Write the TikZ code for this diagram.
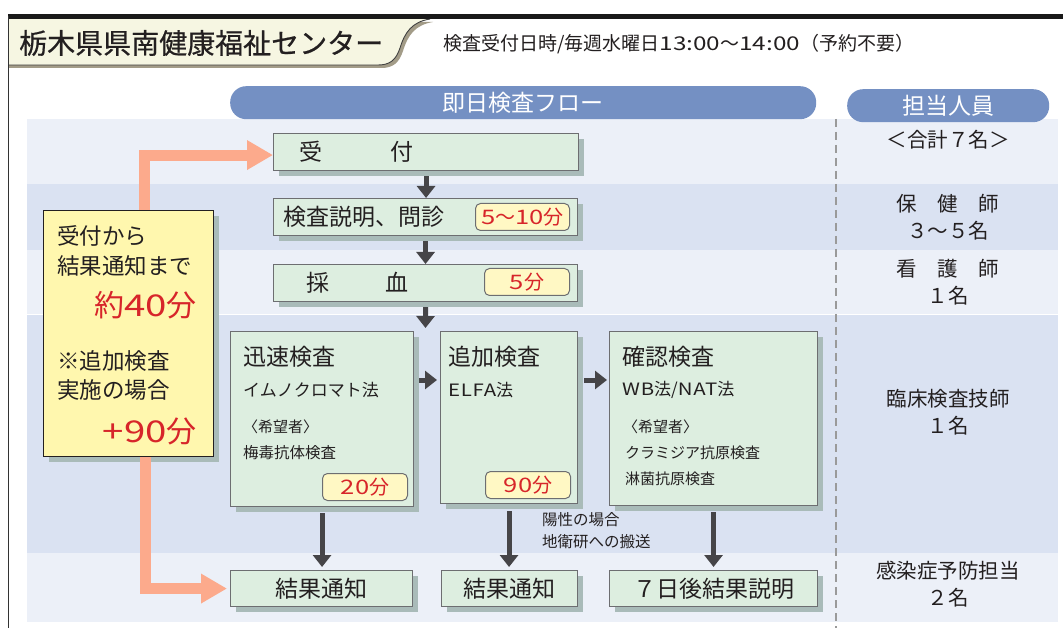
\documentclass[tikz,border=0pt]{standalone}
\usepackage{fontspec}
\setmainfont{Noto Sans CJK JP}
\newcommand\digs[1]{{\addfontfeature{FakeStretch=1.28}#1}}
\newcommand\lats[1]{{\addfontfeature{FakeStretch=1.2,LetterSpace=4}#1}}
\usetikzlibrary{arrows.meta,shadows,calc}
\definecolor{bandA}{HTML}{ECF0F8}
\definecolor{bandB}{HTML}{DAE2F2}
\definecolor{pillc}{HTML}{7490C3}
\definecolor{gfill}{HTML}{DDEEE0}
\definecolor{gshadow}{HTML}{A9BBB9}
\definecolor{yfill}{HTML}{FFF7AE}
\definecolor{badgec}{HTML}{FFF8C4}
\definecolor{redt}{HTML}{D7252A}
\definecolor{darrc}{HTML}{464548}
\definecolor{salmon}{HTML}{FCAA8C}
\definecolor{txt}{HTML}{231F20}
\definecolor{tabfill}{HTML}{F6F6E2}
\definecolor{tabshadow}{HTML}{A39C88}
\definecolor{boxline}{HTML}{6D6E71}
\definecolor{dashc}{HTML}{9A9A9A}
\begin{document}
\begin{tikzpicture}[x=1pt,y=-1pt,
  every node/.style={inner sep=0pt, text=txt},
  fs/.style={font=\fontsize{#1}{#1}\selectfont},
  tx/.style={anchor=west},
  gbox/.style={draw=boxline, line width=1.1pt, fill=gfill, anchor=north west,
    drop shadow={shadow xshift=5pt, shadow yshift=-5pt, fill=gshadow, opacity=1}},
  ybox/.style={draw=txt, line width=1.1pt, fill=yfill, anchor=north west,
    drop shadow={shadow xshift=5pt, shadow yshift=-5pt, fill=gshadow, opacity=1}},
  badge/.style={draw=boxline, line width=1pt, fill=badgec, rounded corners=5pt,
    text=redt, fs=20, anchor=north west},
  pillst/.style={fill=pillc, rounded corners=16pt, anchor=north west, text=white, fs=23},
  darrow/.style={draw=darrc, line width=5pt, -{Triangle[width=18pt,length=12pt]}},
  sarrow/.style={draw=salmon, line width=11pt, -{Triangle[width=28pt,length=26pt]}},
  staff/.style={align=center, font=\fontsize{20.5}{27}\selectfont}
]
\useasboundingbox (0,0) rectangle (1063,628);
\fill[white] (0,0) rectangle (1063,628);

% title tab
\fill[tabshadow] (9,22) -- (433,22) .. controls (415,25) and (408,35) .. (403,51) .. controls (399,63) and (393,68) .. (381,68) -- (9,68) -- cycle;
\fill[tabfill] (9,19) -- (430,19) .. controls (412,22) and (405,32) .. (400,48) .. controls (396,60) and (390,65) .. (378,65) -- (9,65) -- cycle;
\draw[line width=0.9pt, black!75] (430,19) .. controls (412,22) and (405,32) .. (400,48) .. controls (396,60) and (390,65) .. (378,65) -- (9,65);
\node[tx, fs=28] (title) at (19,43) {\addfontfeature{FakeBold=0.6}栃木県県南健康福祉センター};
\node[tx, fs=19] (sub) at (443,44) {検査受付日時/毎週水曜日\digs{13:00}～\digs{14:00}（予約不要）};

% frame
\draw[line width=4.5pt, black!90] (8,16.5) -- (1063,16.5);
\draw[line width=1.5pt, black!80] (8.7,16) -- (8.7,628);

% bands
\fill[bandA] (27,119) rectangle (1058,184);
\fill[bandB] (27,184) rectangle (1058,250);
\fill[bandA] (27,250) rectangle (1058,314);
\fill[bandB] (27,315.5) rectangle (1058,553);
\fill[bandA] (27,553) rectangle (1058,622);
\draw[dashc, line width=1.4pt, dash pattern=on 8pt off 5pt] (836,119) -- (836,628);

% header pills
\node[pillst, minimum width=586pt, minimum height=33pt] (flow) at (230,86) {即日検査フロー};
\node[pillst, minimum width=202pt, minimum height=33pt] (staffh) at (847,89) {担当人員};

% flow boxes
\node[gbox, minimum width=305pt, minimum height=37pt] (uke) at (273,133) {};
\node[tx, fs=23] (tuke) at (299,152) {受\hspace{68pt}付};
\node[gbox, minimum width=304pt, minimum height=37pt] (setsu) at (273,198) {};
\node[tx, fs=23] (tsetsu) at (283,217) {検査説明、問診};
\node[badge, minimum width=94pt, minimum height=27pt] (b1) at (475,203) {\digs{5}～\digs{10}分};
\node[gbox, minimum width=304pt, minimum height=37pt] (sai) at (273,264) {};
\node[tx, fs=23] (tsai) at (306,283) {採\hspace{56pt}血};
\node[badge, minimum width=85pt, minimum height=27pt] (b2) at (484,268) {\digs{5}分};

\node[gbox, minimum width=183pt, minimum height=175pt] (jin) at (230,331) {};
\node[tx, fs=23] (j1) at (243,357) {迅速検査};
\node[tx, fs=17] (j2) at (243,390) {イムノクロマト法};
\node[tx, fs=15] (j3) at (243,427) {〈希望者〉};
\node[tx, fs=15.5] (j4) at (243,453) {梅毒抗体検査};
\node[badge, minimum width=85pt, minimum height=27pt] (b3) at (322,473) {\digs{20}分};

\node[gbox, minimum width=137pt, minimum height=172pt] (tsui) at (440,331) {};
\node[tx, fs=23] (a1) at (448,357) {追加検査};
\node[tx, fs=17] (a2) at (448,390) {\lats{ELFA}法};
\node[badge, minimum width=85pt, minimum height=27pt] (b4) at (485,471) {\digs{90}分};

\node[gbox, minimum width=208pt, minimum height=174pt] (kaku) at (609,331) {};
\node[tx, fs=23] (k1) at (622,357) {確認検査};
\node[tx, fs=17] (k2) at (622,390) {\lats{WB}法/\lats{NAT}法};
\node[tx, fs=15] (k3) at (623,427) {〈希望者〉};
\node[tx, fs=15] (k4) at (625,453) {クラミジア抗原検査};
\node[tx, fs=15] (k5) at (625,479) {淋菌抗原検査};

\node[gbox, minimum width=182pt, minimum height=36pt, fs=23] (res1) at (230,570) {結果通知};
\node[gbox, minimum width=136pt, minimum height=36pt, fs=23] (res2) at (441,570) {結果通知};
\node[gbox, minimum width=208pt, minimum height=36pt, fs=23] (res3) at (609,570) {７日後結果説明};

\node[anchor=north west, align=left, font=\fontsize{15.5}{22}\selectfont] (pos) at (542,512) {陽性の場合\\地衛研への搬送};

% yellow box
\node[ybox, minimum width=170pt, minimum height=246pt] (yel) at (43,210) {};
\node[tx, fs=22.5] (y1) at (57,236) {受付から};
\node[tx, fs=22.5] (y2) at (57,266) {結果通知まで};
\node[anchor=east, fs=30, text=redt] (y3) at (197,305) {約\digs{40}分};
\node[tx, fs=22.5] (y4) at (57,361) {※追加検査};
\node[tx, fs=22.5] (y5) at (57,390) {実施の場合};
\node[anchor=east, fs=30, text=redt] (y6) at (197,431) {\digs{+90}分};

% salmon arrows
\draw[sarrow] ([xshift=15.5pt]yel.north) |- ([yshift=-3pt]uke.west);
\draw[sarrow] ([xshift=16.5pt]yel.south) |- ([xshift=-3pt]res1.west);

% dark arrows
\coordinate (c1) at (425.5,328);
\draw[darrow, shorten <=5pt] (uke.south) -- (uke.south |- setsu.north);
\draw[darrow, shorten <=5pt] (setsu.south) -- (setsu.south |- sai.north);
\draw[darrow, shorten <=5pt] (sai.south) -- (c1);
\draw[darrow, shorten <=5pt, shorten >=3pt] ([yshift=-49pt]jin.north east) -- ([yshift=-49pt]tsui.north west);
\draw[darrow, shorten <=6pt, shorten >=2pt] ([yshift=-49pt]tsui.north east) -- ([yshift=-49pt]kaku.north west);
\draw[darrow, shorten <=6pt, shorten >=3pt] (jin.south) -- (jin.south |- res1.north);
\draw[darrow, shorten <=7pt, shorten >=3pt] (tsui.south) -- (tsui.south |- res2.north);
\draw[darrow, shorten <=6pt, shorten >=3pt] (kaku.south) -- (kaku.south |- res3.north);

% staff column
\node[staff] (s0) at (948,140) {＜合計７名＞};
\node[staff] (s1) at (948,217) {保　健　師\\３～５名};
\node[staff] (s2) at (948,282) {看　護　師\\１名};
\node[staff] (s3) at (948,412) {臨床検査技師\\１名};
\node[staff] (s4) at (948,584) {感染症予防担当\\２名};
\end{tikzpicture}
\end{document}
